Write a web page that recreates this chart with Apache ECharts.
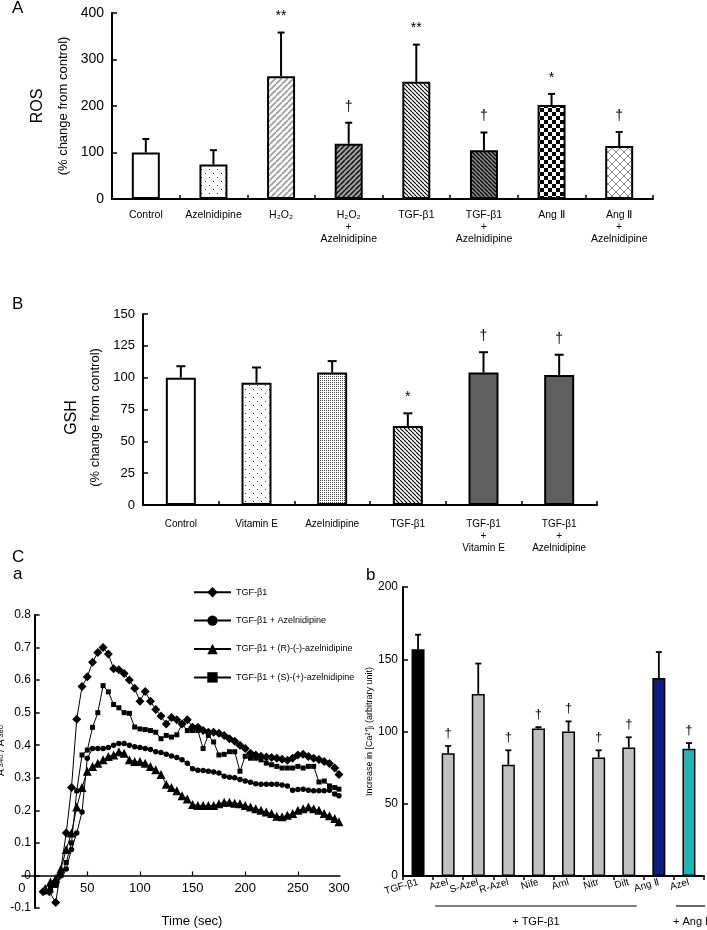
<!DOCTYPE html>
<html><head><meta charset="utf-8">
<script src="https://cdn.jsdelivr.net/npm/echarts@6/dist/echarts.min.js"></script>
<style>html,body{margin:0;padding:0;background:#fff}#c{width:707px;height:930px}</style>
</head><body><div id="c"></div><script>
const FONT = '"Liberation Sans", Arial, Helvetica, sans-serif';

// ---------- Panel A : ROS ----------
const catsA = ['Control', 'Azelnidipine', 'H₂O₂', 'H₂O₂\n+\nAzelnidipine', 'TGF-β1', 'TGF-β1\n+\nAzelnidipine', 'Ang Ⅱ', 'Ang Ⅱ\n+\nAzelnidipine'];
const rosMean = [100, 74, 264, 119, 252, 105, 202, 114];
const rosSD   = [29, 31, 94, 45, 80, 38, 24, 30];
const rosSig  = ['', '', '**', '†', '**', '†', '*', '†'];

// ---------- Panel B : GSH ----------
const catsB = ['Control', 'Vitamin E', 'Azelnidipine', 'TGF-β1', 'TGF-β1\n+\nVitamin E', 'TGF-β1\n+\nAzelnidipine'];
const gshMean = [100, 96, 104, 62, 104, 102];
const gshSD   = [9, 12, 9, 10, 16, 16];
const gshSig  = ['', '', '', '*', '†', '†'];

// ---------- Panel C a : time course ----------
const namesCa = ['TGF-β1', 'TGF-β1 + Azelnidipine', 'TGF-β1 + (R)-(-)-azelnidipine', 'TGF-β1 + (S)-(+)-azelnidipine'];
const caTGF = [[8,-0.05],[14,-0.05],[20,-0.083],[24,0.0],[30,0.13],[35,0.27],[40,0.48],[45,0.58],[50,0.61],[55,0.655],[60,0.685],[65,0.70],[70,0.68],[75,0.635],[80,0.632],[85,0.62],[90,0.60],[95,0.575],[100,0.535],[105,0.565],[110,0.535],[115,0.51],[120,0.49],[125,0.465],[130,0.485],[135,0.478],[140,0.465],[145,0.478],[150,0.455],[155,0.455],[160,0.445],[165,0.44],[170,0.44],[175,0.437],[180,0.43],[185,0.42],[190,0.412],[195,0.40],[200,0.39],[205,0.375],[210,0.37],[215,0.366],[220,0.364],[225,0.362],[230,0.36],[235,0.357],[240,0.354],[245,0.36],[250,0.37],[255,0.372],[260,0.365],[265,0.36],[270,0.356],[275,0.35],[280,0.344],[285,0.33],[289,0.31]];
const caAzel = [[10,-0.05],[15,-0.045],[20,-0.03],[25,0.0],[30,0.02],[35,0.08],[40,0.13],[45,0.195],[50,0.36],[55,0.39],[60,0.39],[65,0.39],[70,0.393],[75,0.40],[80,0.405],[85,0.405],[90,0.40],[95,0.395],[100,0.393],[105,0.39],[110,0.387],[115,0.38],[120,0.378],[125,0.372],[130,0.367],[135,0.362],[140,0.355],[145,0.345],[150,0.328],[155,0.323],[160,0.322],[165,0.32],[170,0.318],[175,0.315],[180,0.305],[185,0.302],[190,0.30],[195,0.295],[200,0.29],[205,0.286],[210,0.282],[215,0.28],[220,0.28],[225,0.28],[230,0.28],[235,0.278],[240,0.275],[245,0.262],[250,0.264],[255,0.265],[260,0.262],[265,0.26],[270,0.26],[275,0.26],[280,0.262],[285,0.25],[289,0.245]];
const caR = [[10,-0.04],[15,-0.02],[20,-0.01],[25,0.02],[30,0.08],[35,0.13],[40,0.21],[45,0.27],[50,0.32],[55,0.335],[60,0.345],[65,0.355],[70,0.365],[75,0.37],[80,0.38],[85,0.375],[90,0.355],[95,0.35],[100,0.35],[105,0.345],[110,0.335],[115,0.325],[120,0.31],[125,0.28],[130,0.27],[135,0.26],[140,0.245],[145,0.235],[150,0.218],[155,0.215],[160,0.215],[165,0.215],[170,0.215],[175,0.22],[180,0.225],[185,0.225],[190,0.222],[195,0.22],[200,0.215],[205,0.21],[210,0.205],[215,0.2],[220,0.195],[225,0.19],[230,0.182],[235,0.18],[240,0.185],[245,0.19],[250,0.2],[255,0.205],[260,0.21],[265,0.205],[270,0.2],[275,0.19],[280,0.183],[285,0.175],[289,0.165]];
const caS = [[10,-0.05],[15,-0.04],[20,-0.03],[25,0.0],[30,0.04],[35,0.10],[40,0.26],[45,0.37],[50,0.385],[55,0.455],[60,0.50],[65,0.583],[70,0.564],[75,0.525],[80,0.515],[85,0.50],[90,0.498],[95,0.456],[100,0.45],[105,0.448],[110,0.445],[115,0.44],[120,0.42],[125,0.43],[130,0.425],[135,0.432],[140,0.465],[145,0.445],[150,0.445],[155,0.445],[160,0.39],[165,0.43],[170,0.41],[175,0.37],[180,0.372],[185,0.38],[190,0.38],[195,0.32],[200,0.366],[205,0.36],[210,0.36],[215,0.355],[220,0.345],[225,0.34],[230,0.335],[235,0.33],[240,0.33],[245,0.33],[250,0.335],[255,0.33],[260,0.335],[265,0.335],[270,0.287],[275,0.29],[280,0.275],[285,0.27],[289,0.265]];
const ticksCaX = [0, 50, 100, 150, 200, 250];

// ---------- Panel C b : Ca2+ increase ----------
const catsCb = ['TGF-β1', 'Azel', 'S-Azel', 'R-Azel', 'Nife', 'Aml', 'Nitr', 'Dilt', 'Ang Ⅱ', 'Azel'];
const caMean = [157, 85, 126, 77, 102, 100, 82, 89, 137, 88];
const caSD   = [10, 5, 21, 10, 1, 7, 5, 7, 18, 4];
const caSig  = ['', '†', '', '†', '†', '†', '†', '†', '', '†'];
const groupsCb = [{label: '+ TGF-β1', from: 1, to: 7}, {label: '+ Ang Ⅱ', from: 9, to: 9}];

// ---------- fills ----------
function tile(w, h, draw) {
  const c = document.createElement('canvas'); c.width = w; c.height = h;
  const g = c.getContext('2d'); draw(g, w, h);
  return {image: c, repeat: 'repeat'};
}
function diag(s, dir, bg, fg, lw) {
  return tile(s, s, g => {
    g.fillStyle = bg; g.fillRect(0, 0, s, s);
    g.strokeStyle = fg; g.lineWidth = lw; g.beginPath();
    for (let k = -1; k <= 1; k++) {
      if (dir > 0) { g.moveTo(k * s, s); g.lineTo(k * s + s, 0); }
      else { g.moveTo(k * s, 0); g.lineTo(k * s + s, s); }
    }
    g.stroke();
  });
}
const fills = {
  white: '#ffffff',
  dotsSparse: tile(8, 8, g => { g.fillStyle = '#fff'; g.fillRect(0,0,8,8); g.fillStyle = '#333'; g.fillRect(1,1,1,1); g.fillRect(5,5,1,1); }),
  dotsDense: tile(2, 2, g => { g.fillStyle = '#fff'; g.fillRect(0,0,2,2); g.fillStyle = '#444'; g.fillRect(0,0,1,1); }),
  hatchLight: diag(6, 1, '#ffffff', '#9a9a9a', 1.6),
  hatchDark: diag(5, 1, '#a0a0a0', '#111111', 1.5),
  hatchBack: diag(4, -1, '#ffffff', '#000000', 1.1),
  hatchBackDark: diag(4, -1, '#8a8a8a', '#111111', 1.5),
  checker: tile(8, 8, g => { g.fillStyle = '#fff'; g.fillRect(0,0,8,8); g.fillStyle = '#000'; g.fillRect(0,0,4,4); g.fillRect(4,4,4,4); }),
  cross: tile(8, 8, g => { g.fillStyle = '#fff'; g.fillRect(0,0,8,8); g.strokeStyle = '#888'; g.lineWidth = 1; g.beginPath(); g.moveTo(0,0); g.lineTo(8,8); g.moveTo(8,0); g.lineTo(0,8); g.stroke(); }),
  darkGray: '#5f5f5f'
};
const fillA = ['white', 'dotsSparse', 'hatchLight', 'hatchDark', 'hatchBack', 'hatchBackDark', 'checker', 'cross'];
const fillB = ['white', 'dotsSparse', 'dotsDense', 'hatchBack', 'darkGray', 'darkGray'];
const colCb = ['#000000', '#c0c0c0', '#c0c0c0', '#c0c0c0', '#c0c0c0', '#c0c0c0', '#c0c0c0', '#c0c0c0', '#0d1e80', '#1fb5b5'];

// ---------- helpers ----------
const black = '#000';
function errSeries(idx, means, sds, sigs, o) {
  return {
    type: 'custom', xAxisIndex: idx, yAxisIndex: idx, z: 5, clip: false, silent: true,
    data: means.map((m, i) => [i, m, m + sds[i]]),
    renderItem(params, api) {
      const i = api.value(0);
      const p0 = api.coord([i, api.value(1)]);
      const p1 = api.coord([i, api.value(2)]);
      const hw = o.cap / 2;
      const ch = [
        {type: 'line', shape: {x1: p0[0], y1: p0[1], x2: p1[0], y2: p1[1]}, style: {stroke: black, lineWidth: o.lw}},
        {type: 'line', shape: {x1: p1[0] - hw, y1: p1[1], x2: p1[0] + hw, y2: p1[1]}, style: {stroke: black, lineWidth: o.lw}}
      ];
      const s = sigs[params.dataIndex];
      if (s) ch.push({type: 'text', x: p1[0], y: p1[1] - o.gap, style: {text: s, fontSize: o.fs, fontFamily: FONT, fill: black, align: 'center', verticalAlign: 'bottom'}});
      return {type: 'group', children: ch};
    }
  };
}
function catAxis(idx, data, o) {
  return {
    type: 'category', gridIndex: idx, data: data,
    axisLine: {lineStyle: {color: black, width: 2}},
    axisTick: {show: true, inside: o.tickInside, length: 4, interval: 0, lineStyle: {color: black, width: 1.5}},
    axisLabel: Object.assign({interval: 0, color: black, fontFamily: FONT, fontSize: o.fs, lineHeight: o.lh || 12, margin: o.margin}, o.label || {})
  };
}

const chart = echarts.init(document.getElementById('c'), null, {renderer: 'canvas', width: 707, height: 930});

const option = {
  animation: false,
  backgroundColor: '#fff',
  textStyle: {fontFamily: FONT, color: black},
  grid: [
    {left: 112, top: 13, width: 541, height: 186, outerBoundsMode: 'none', containLabel: false},
    {left: 143, top: 314, width: 454, height: 191, outerBoundsMode: 'none', containLabel: false},
    {left: 22, top: 615, width: 318, height: 293, outerBoundsMode: 'none', containLabel: false},
    {left: 403, top: 587, width: 301, height: 289, outerBoundsMode: 'none', containLabel: false}
  ],
  legend: {
    orient: 'vertical', left: 188, top: 582, itemWidth: 37, itemHeight: 13, itemGap: 18,
    textStyle: {fontFamily: FONT, fontSize: 9, color: black},
    data: namesCa, selectedMode: false
  },
  xAxis: [
    catAxis(0, catsA, {fs: 10.5, margin: 10, tickInside: true}),
    catAxis(1, catsB, {fs: 10, margin: 13, tickInside: true}),
    {
      type: 'value', gridIndex: 2, min: -12, max: 290,
      axisLine: {onZero: true, lineStyle: {color: black, width: 1.5}},
      axisTick: {inside: true, length: 4, customValues: ticksCaX, lineStyle: {color: black, width: 1.2}},
      axisLabel: {customValues: ticksCaX, color: black, fontFamily: FONT, fontSize: 13, margin: -26,
        formatter: v => Number(v) === 0 ? '{z|0}' : String(v),
        rich: {z: {fontSize: 13, fontFamily: FONT, width: 33, align: 'left'}}},
      splitLine: {show: false},
      name: 'Time (sec)', nameLocation: 'middle', nameGap: 7,
      nameTextStyle: {fontFamily: FONT, fontSize: 13, color: black, padding: [0, 0, 0, 22]}
    },
    catAxis(3, catsCb, {fs: 10, margin: 6, tickInside: false, label: {rotate: 16}})
  ],
  yAxis: [
    {
      type: 'value', gridIndex: 0, min: 0, max: 400, interval: 100,
      axisLine: {show: true, lineStyle: {color: black, width: 2}},
      axisTick: {show: true, inside: true, length: 5, lineStyle: {color: black, width: 1.5}},
      axisLabel: {color: black, fontFamily: FONT, fontSize: 14, margin: 8},
      splitLine: {show: false},
      name: '{a|ROS}\n{b|(% change from control)}', nameLocation: 'middle', nameRotate: 90, nameGap: 24,
      nameTextStyle: {color: black, fontFamily: FONT, rich: {a: {fontSize: 16, lineHeight: 30, fontFamily: FONT}, b: {fontSize: 13, lineHeight: 22, fontFamily: FONT}}}
    },
    {
      type: 'value', gridIndex: 1, min: 0, max: 150, interval: 25,
      axisLine: {show: true, lineStyle: {color: black, width: 2}},
      axisTick: {show: true, inside: true, length: 5, lineStyle: {color: black, width: 1.5}},
      axisLabel: {color: black, fontFamily: FONT, fontSize: 13, margin: 8},
      splitLine: {show: false},
      name: '{a|GSH}\n{b|(% change from control)}', nameLocation: 'middle', nameRotate: 90, nameGap: 28,
      nameTextStyle: {color: black, fontFamily: FONT, padding: [0, 16, 0, 0], rich: {a: {fontSize: 16, lineHeight: 28, fontFamily: FONT}, b: {fontSize: 13, lineHeight: 21, fontFamily: FONT}}}
    },
    {
      type: 'value', gridIndex: 2, min: -0.1, max: 0.8, interval: 0.1,
      axisLine: {show: true, onZero: true, lineStyle: {color: black, width: 2}},
      axisTick: {show: true, inside: true, length: 5, lineStyle: {color: black, width: 1.5}},
      axisLabel: {color: black, fontFamily: FONT, fontSize: 12, margin: -9,
        formatter: v => Math.abs(v) < 1e-9 ? '0' : (Math.round(v * 10) / 10).toFixed(1)},
      splitLine: {show: false},
      name: 'A{s| 340} / A{s| 380}', nameLocation: 'middle', nameRotate: 90, nameGap: 12,
      nameTextStyle: {color: black, fontFamily: FONT, fontSize: 10, lineHeight: 10, padding: [0, 0, 0, 22],
        rich: {s: {fontSize: 7.5, lineHeight: 10, fontFamily: FONT}}}
    },
    {
      type: 'value', gridIndex: 3, min: 0, max: 200, interval: 50,
      axisLine: {show: true, lineStyle: {color: black, width: 2}},
      axisTick: {show: true, inside: true, length: 5, lineStyle: {color: black, width: 1.5}},
      axisLabel: {color: black, fontFamily: FONT, fontSize: 12, margin: 5},
      splitLine: {show: false},
      name: 'Increase in [Ca²⁺]ᵢ (arbitrary unit)', nameLocation: 'middle', nameRotate: 90, nameGap: 22,
      nameTextStyle: {color: black, fontFamily: FONT, fontSize: 9}
    }
  ],
  series: [
    {type: 'bar', xAxisIndex: 0, yAxisIndex: 0, barWidth: 28, silent: true,
     itemStyle: {borderColor: black, borderWidth: 2},
     data: rosMean.map((v, i) => ({value: v, itemStyle: {color: fills[fillA[i]]}}))},
    errSeries(0, rosMean, rosSD, rosSig, {cap: 7, lw: 2, gap: 9, fs: 14}),
    {type: 'bar', xAxisIndex: 1, yAxisIndex: 1, barWidth: 30, silent: true,
     itemStyle: {borderColor: black, borderWidth: 2},
     data: gshMean.map((v, i) => ({value: v, itemStyle: {color: fills[fillB[i]]}}))},
    errSeries(1, gshMean, gshSD, gshSig, {cap: 9, lw: 2, gap: 9, fs: 14}),
    {type: 'line', name: namesCa[0], xAxisIndex: 2, yAxisIndex: 2, data: caTGF, symbol: 'diamond', symbolSize: 9,
     lineStyle: {color: black, width: 1}, itemStyle: {color: black}, z: 4},
    {type: 'line', name: namesCa[1], xAxisIndex: 2, yAxisIndex: 2, data: caAzel, symbol: 'circle', symbolSize: 5.5,
     lineStyle: {color: black, width: 1}, itemStyle: {color: black}, z: 3},
    {type: 'line', name: namesCa[2], xAxisIndex: 2, yAxisIndex: 2, data: caR, symbol: 'triangle', symbolSize: 9,
     lineStyle: {color: black, width: 1}, itemStyle: {color: black}, z: 3},
    {type: 'line', name: namesCa[3], xAxisIndex: 2, yAxisIndex: 2, data: caS, symbol: 'rect', symbolSize: 5,
     lineStyle: {color: black, width: 1}, itemStyle: {color: black}, z: 3},
    {type: 'bar', xAxisIndex: 3, yAxisIndex: 3, barWidth: 13, silent: true,
     itemStyle: {borderColor: black, borderWidth: 1.5},
     data: caMean.map((v, i) => ({value: v, itemStyle: {color: colCb[i]}}))},
    errSeries(3, caMean, caSD, caSig, {cap: 6, lw: 1.8, gap: 6, fs: 13})
  ],
  graphic: [
    {type: 'text', x: 12, y: 0, style: {text: 'A', fontFamily: FONT, fontSize: 17, fill: black}},
    {type: 'text', x: 12, y: 296, style: {text: 'B', fontFamily: FONT, fontSize: 17, fill: black}},
    {type: 'text', x: 12, y: 549, style: {text: 'C', fontFamily: FONT, fontSize: 17, fill: black}},
    {type: 'text', x: 13, y: 566, style: {text: 'a', fontFamily: FONT, fontSize: 17, fill: black}},
    {type: 'text', x: 366, y: 567, style: {text: 'b', fontFamily: FONT, fontSize: 17, fill: black}},
    {type: 'text', x: 339, y: 888, style: {text: '300', fontFamily: FONT, fontSize: 13, fill: black, align: 'center', verticalAlign: 'middle'}}
  ]
};
chart.setOption(option);

// group brackets under panel C b, positioned from the category axis
const extra = [];
groupsCb.forEach((g, k) => {
  const last = k === groupsCb.length - 1;
  const a = chart.convertToPixel({xAxisIndex: 3}, g.from);
  const b = chart.convertToPixel({xAxisIndex: 3}, g.to);
  const left = a - 13, right = last ? b + 16 : b + 8;
  extra.push({type: 'line', shape: {x1: left, y1: 906, x2: right, y2: 906}, style: {stroke: black, lineWidth: 1.2}});
  extra.push(last
    ? {type: 'text', x: left - 3, y: 922, style: {text: g.label, fontFamily: FONT, fontSize: 11, fill: black, align: 'left', verticalAlign: 'middle'}}
    : {type: 'text', x: (left + right) / 2, y: 922, style: {text: g.label, fontFamily: FONT, fontSize: 11, fill: black, align: 'center', verticalAlign: 'middle'}});
});
chart.setOption({graphic: option.graphic.concat(extra)});
</script></body></html>
